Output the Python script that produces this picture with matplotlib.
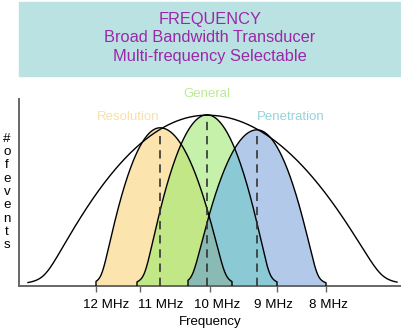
import numpy as np
import matplotlib
matplotlib.use("Agg")
import matplotlib.pyplot as plt
from matplotlib.patches import Rectangle

plt.rcParams['font.family'] = ['Liberation Sans', 'DejaVu Sans']

# x axis in arbitrary position units, heights relative to the envelope peak
tick_pos = [77, 121, 191, 258, 307]
tick_label_pos = [87, 142, 198, 254, 309]
tick_labels = ['12 MHz', '11 MHz', '10 MHz', '9 MHz', '8 MHz']

band_names = ['Resolution', 'General', 'Penetration']
band_centers = [141, 188, 238]
band_heights = [0.924, 1.0, 0.912]
band_width_left = [58, 62, 64]
band_width_right = [65, 62, 60]
band_edges = [(77, 213), (118, 258), (169, 307)]

env_center = 188
env_height = 1.0
env_width_left = 162
env_width_right = 174
env_edges = (9, 378)

band_colors = ['#fbe4ae', '#c6f1ab', '#b3c9ea']
label_colors = ['#f9e0a6', '#b9ea93', '#97d2dc']
overlap_yg = '#c1e786'
overlap_gb = '#8bc9d4'
overlap_ygb = '#89bab4'


def bell(x, center, height, wl, wr, eps):
    # parabola top with a smooth flared foot
    w = np.where(x < center, wl, wr)
    p = 1 - ((x - center) / w) ** 2
    return height * 0.5 * (p + np.sqrt(p ** 2 + eps ** 2))


def band(i, x):
    return bell(x, band_centers[i], band_heights[i], band_width_left[i],
                band_width_right[i], 0.17)


fig = plt.figure(figsize=(4.02, 3.30), dpi=100)

# header box
fig.patches.append(Rectangle((19 / 402, 1 - 76 / 330), 383 / 402, 74 / 330,
                             transform=fig.transFigure, color='#bae2e3', zorder=0))
fig.text(210 / 402, 1 - 38 / 330,
         'FREQUENCY\nBroad Bandwidth Transducer\nMulti-frequency Selectable',
         ha='center', va='center', ma='center', fontsize=11.8, color='#9b28a8',
         linespacing=1.32)

ax = fig.add_axes([19 / 402, 44 / 330, 383 / 402, 187 / 330])
ax.set_xlim(0, 383)
ax.set_ylim(0, 1.1)

# single bands
for i in range(3):
    lo, hi = band_edges[i]
    xs = np.linspace(lo, hi, 400)
    ax.fill_between(xs, 0, band(i, xs), color=band_colors[i], lw=0, zorder=1)

# overlaps
def fill_overlap(ids, color):
    lo = max(band_edges[i][0] for i in ids)
    hi = min(band_edges[i][1] for i in ids)
    xs = np.linspace(lo, hi, 400)
    ys = np.min([band(i, xs) for i in ids], axis=0)
    ax.fill_between(xs, 0, ys, color=color, lw=0, zorder=2)

fill_overlap([0, 1], overlap_yg)
fill_overlap([1, 2], overlap_gb)
fill_overlap([0, 1, 2], overlap_ygb)

# outlines
for i in range(3):
    lo, hi = band_edges[i]
    xs = np.linspace(lo, hi, 400)
    ys = band(i, xs)
    ax.plot(np.r_[lo, xs, hi], np.r_[0, ys, 0], color='black', lw=1.0, zorder=3)
    ax.plot([band_centers[i]] * 2, [0, band_heights[i]], color='#333333',
            lw=1.2, dashes=(5, 3.5), zorder=4)

xe = np.linspace(env_edges[0], env_edges[1], 800)
ax.plot(xe, bell(xe, env_center, env_height, env_width_left, env_width_right, 0.14),
        color='black', lw=1.0, zorder=3)

label_pos = [(109, 0.992), (188, 1.128), (272, 0.992)]
for i in range(3):
    ax.text(label_pos[i][0], label_pos[i][1], band_names[i], ha='center', va='center',
            fontsize=9.5, color=label_colors[i], clip_on=False)

for s in ['top', 'right']:
    ax.spines[s].set_visible(False)
for s in ['left', 'bottom']:
    ax.spines[s].set_color('#666666')
    ax.spines[s].set_linewidth(1.4)
ax.set_yticks([])

# tick marks on major ticks, the labels sit on unmarked minor ticks
ax.set_xticks(tick_pos)
ax.set_xticklabels([])
ax.set_xticks(tick_label_pos, minor=True)
ax.set_xticklabels(tick_labels, minor=True, fontsize=9.6)
ax.tick_params(axis='x', which='major', length=4, width=1, color='#666666')
ax.tick_params(axis='x', which='minor', length=0, pad=9)
ax.set_xlabel('Frequency', fontsize=9.5, labelpad=4)

fig.text(7 / 402, 1 - 192 / 330, '\n'.join('#ofevents'), ha='center', va='center',
         fontsize=9.6, linespacing=1.14)

fig.savefig('out.png', dpi=100)
